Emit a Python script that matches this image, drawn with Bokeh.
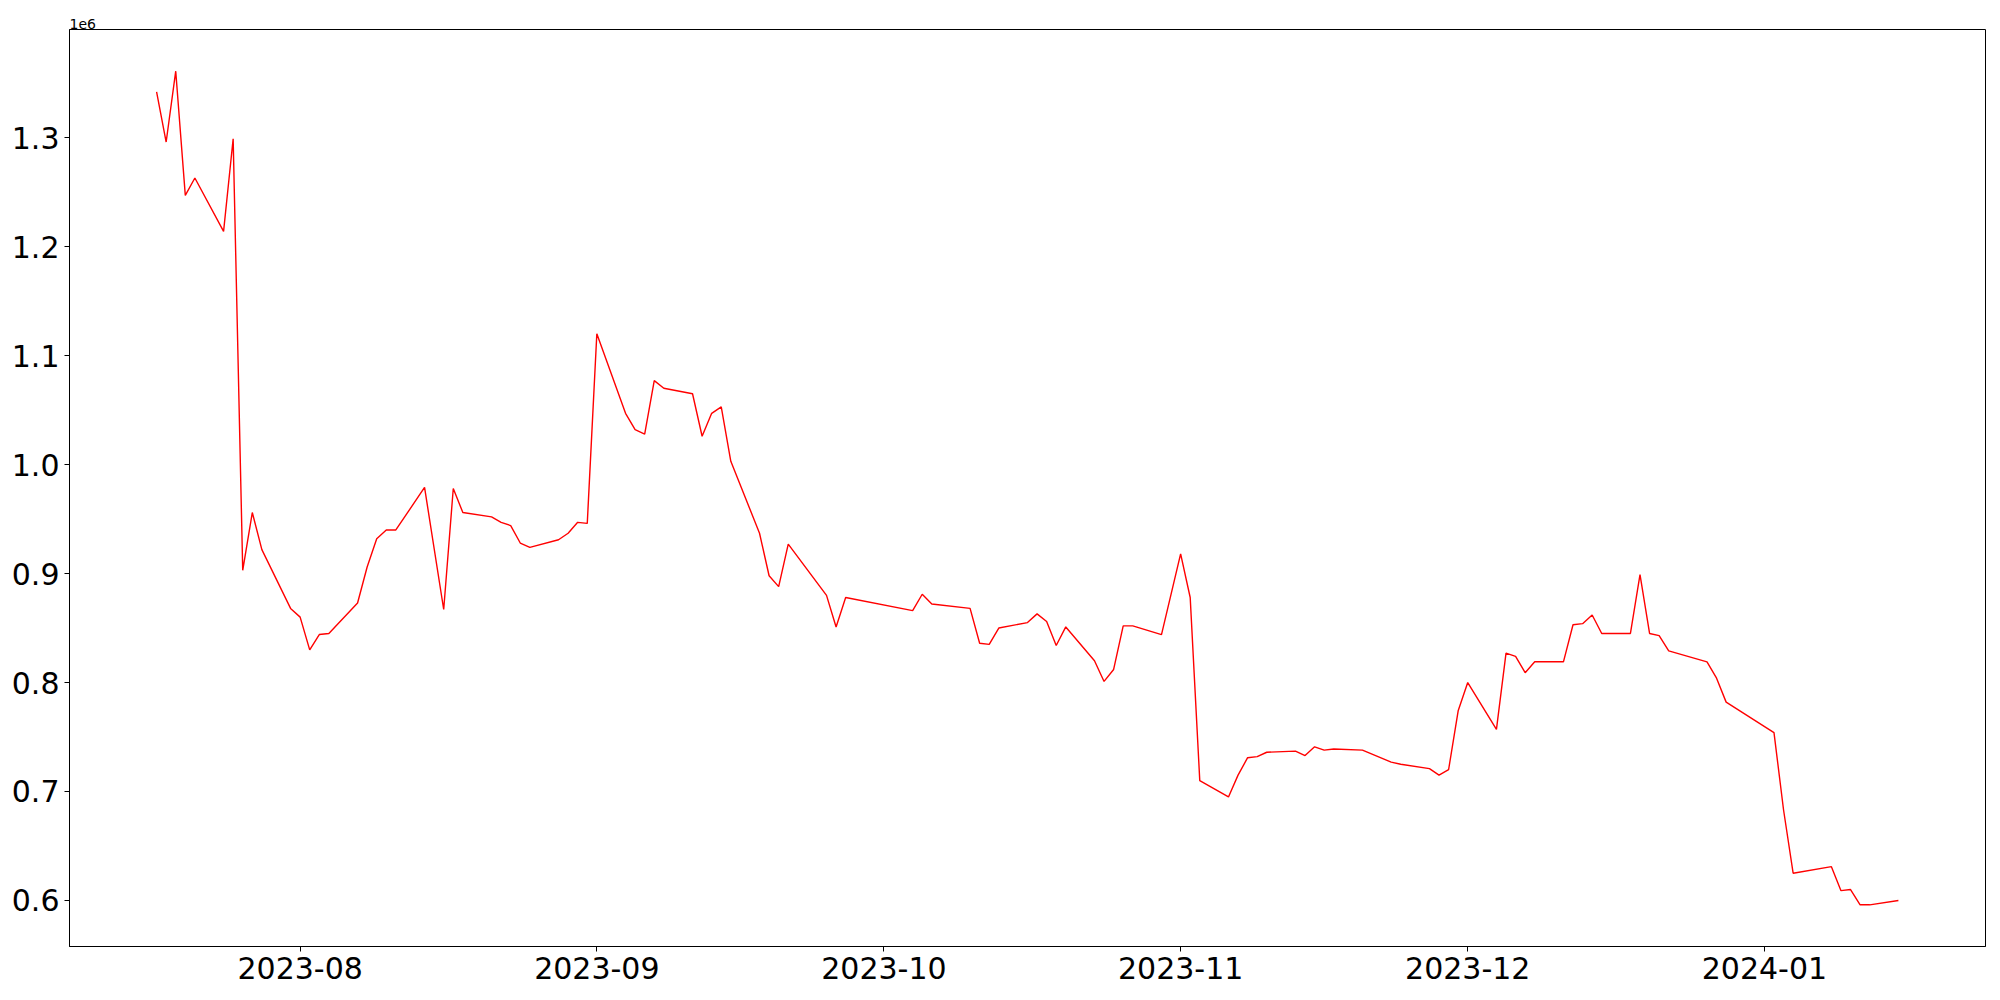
import pandas as pd
from bokeh.plotting import figure
from bokeh.models import FixedTicker, CustomJSTickFormatter, Range1d
from bokeh.embed import file_html
from bokeh.resources import INLINE

dates = [
    "2023-07-17", "2023-07-18", "2023-07-19", "2023-07-20", "2023-07-21", "2023-07-24", "2023-07-25",
    "2023-07-26", "2023-07-27", "2023-07-28", "2023-07-31",
    "2023-08-01", "2023-08-02", "2023-08-03", "2023-08-04", "2023-08-07", "2023-08-08", "2023-08-09",
    "2023-08-10", "2023-08-11", "2023-08-14", "2023-08-16", "2023-08-17", "2023-08-18", "2023-08-21",
    "2023-08-22", "2023-08-23", "2023-08-24", "2023-08-25", "2023-08-28", "2023-08-29", "2023-08-30",
    "2023-08-31",
    "2023-09-01", "2023-09-04", "2023-09-05", "2023-09-06", "2023-09-07", "2023-09-08", "2023-09-11",
    "2023-09-12", "2023-09-13", "2023-09-14", "2023-09-15", "2023-09-18", "2023-09-19", "2023-09-20",
    "2023-09-21", "2023-09-25", "2023-09-26", "2023-09-27",
    "2023-10-04", "2023-10-05", "2023-10-06", "2023-10-10", "2023-10-11", "2023-10-12", "2023-10-13",
    "2023-10-16", "2023-10-17", "2023-10-18", "2023-10-19", "2023-10-20", "2023-10-23", "2023-10-24",
    "2023-10-25", "2023-10-26", "2023-10-27", "2023-10-30",
    "2023-11-01", "2023-11-02", "2023-11-03", "2023-11-06", "2023-11-07", "2023-11-08", "2023-11-09",
    "2023-11-10", "2023-11-13", "2023-11-14", "2023-11-15", "2023-11-16", "2023-11-17", "2023-11-20",
    "2023-11-23", "2023-11-24", "2023-11-27", "2023-11-28", "2023-11-29", "2023-11-30",
    "2023-12-01", "2023-12-04", "2023-12-05", "2023-12-06", "2023-12-07", "2023-12-08", "2023-12-11",
    "2023-12-12", "2023-12-13", "2023-12-14", "2023-12-15", "2023-12-18", "2023-12-19", "2023-12-20",
    "2023-12-21", "2023-12-22", "2023-12-26", "2023-12-27", "2023-12-28",
    "2024-01-02", "2024-01-03", "2024-01-04", "2024-01-08", "2024-01-09", "2024-01-10", "2024-01-11",
    "2024-01-12", "2024-01-15",
]

values = [
    1342000, 1296000, 1361000, 1247000, 1263000, 1214000, 1299000,
    903000, 956000, 922000, 868000,
    860000, 830000, 844000, 845000, 873000, 906000, 932000,
    940000, 940000, 979000, 867000, 978000, 956000, 952000,
    947000, 944000, 928000, 924000, 931000, 937000, 947000,
    946000,
    1120000, 1047000, 1032000, 1028000, 1077000, 1070000, 1065000,
    1026000, 1047000, 1053000, 1003000, 937000, 898000, 888000,
    927000, 880000, 851000, 878000,
    866000, 881000, 872000, 868000, 836000, 835000, 850000,
    855000, 863000, 856000, 834000, 851000, 820000, 801000,
    812000, 852000, 852000, 844000,
    918000, 878000, 710000, 695000, 715000, 731000, 732000,
    736000, 737000, 733000, 741000, 738000, 739000, 738000,
    727000, 725000, 721000, 715000, 720000, 774000,
    800000, 757000, 827000, 824000, 809000, 819000, 819000,
    853000, 854000, 862000, 845000, 845000, 899000, 845000,
    843000, 829000, 819000, 804000, 782000,
    754000, 683000, 625000, 631000, 609000, 610000, 596000,
    596000, 600000,
]

month_ticks = ["2023-08-01", "2023-09-01", "2023-10-01", "2023-11-01", "2023-12-01", "2024-01-01"]
y_ticks = [600000, 700000, 800000, 900000, 1000000, 1100000, 1200000, 1300000]

x = pd.to_datetime(dates)
x_min, x_max = x.min(), x.max()
x_pad = (x_max - x_min) * 0.05
y_min, y_max = min(values), max(values)
y_pad = (y_max - y_min) * 0.05

p = figure(
    width=1992, height=992,
    x_axis_type="datetime",
    output_backend="svg",
    toolbar_location=None,
    min_border_left=69, min_border_right=7, min_border_top=29, min_border_bottom=46,
    x_range=Range1d(x_min - x_pad, x_max + x_pad),
    y_range=Range1d(y_min - y_pad, y_max + y_pad),
    title="1e6",
)

p.title.align = "left"
p.title.text_font = "DejaVu Sans"
p.title.text_font_size = "14px"
p.title.text_font_style = "normal"
p.title.text_color = "black"
p.title.standoff = 2
p.title.offset = 0

p.line(x, values, line_color="red", line_width=1.4)

tick_ms = [pd.Timestamp(t).value // 10**6 for t in month_ticks]
p.xaxis.ticker = FixedTicker(ticks=tick_ms)
p.xaxis.formatter = CustomJSTickFormatter(code="""
const d = new Date(tick);
return d.getUTCFullYear() + '-' + String(d.getUTCMonth() + 1).padStart(2, '0');
""")
p.yaxis.ticker = FixedTicker(ticks=y_ticks)
p.yaxis.formatter = CustomJSTickFormatter(code="return (tick / 1e6).toFixed(1);")

for ax in (p.xaxis, p.yaxis):
    ax.major_label_text_font = "DejaVu Sans"
    ax.major_label_text_font_size = "30px"
    ax.major_label_text_color = "black"
    ax.axis_line_color = "black"
    ax.axis_line_width = 1
    ax.major_tick_line_color = "black"
    ax.major_tick_line_width = 1
    ax.major_tick_in = 0
    ax.major_tick_out = 5
    ax.minor_tick_line_color = None
    ax.major_label_standoff = 5

p.xgrid.grid_line_color = None
p.ygrid.grid_line_color = None
p.outline_line_color = "black"
p.outline_line_width = 1
p.outline_line_alpha = 1
p.background_fill_color = "white"
p.border_fill_color = "white"

open("out.html", "w").write(file_html(p, INLINE))
